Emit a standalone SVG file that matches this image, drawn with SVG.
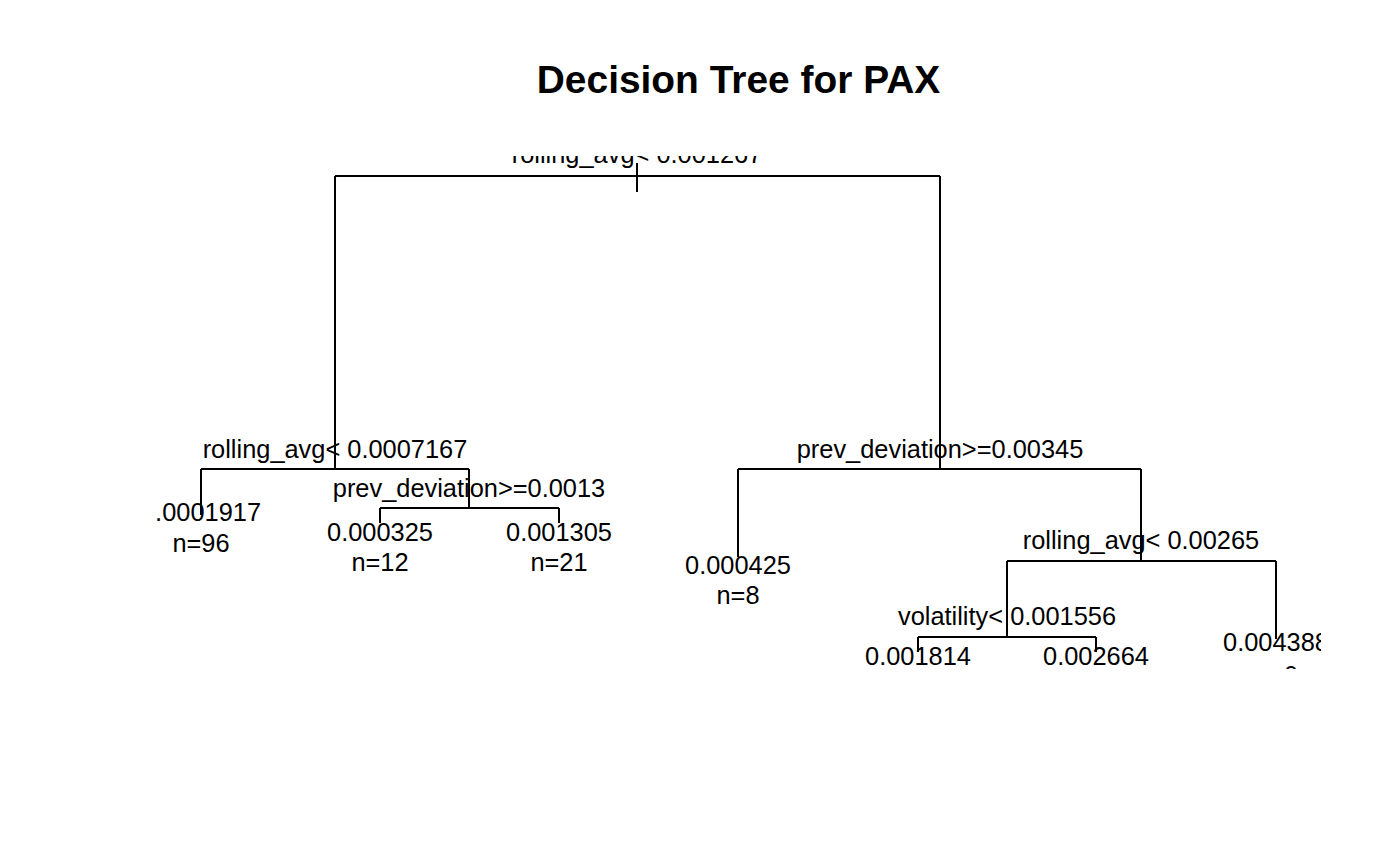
<svg xmlns="http://www.w3.org/2000/svg" width="1400" height="865" viewBox="0 0 1400 865">
<style>
.t{font-family:"Liberation Sans",Arial,sans-serif;font-size:25.4px;fill:#000;text-anchor:middle}
.title{font-family:"Liberation Sans",Arial,sans-serif;font-size:38.9px;font-weight:bold;fill:#000;text-anchor:middle}
.c{fill:none;stroke:#000;stroke-width:2;stroke-linecap:butt}
</style>
<defs>
<clipPath id="plot"><rect x="156" y="156" width="1165" height="513"/></clipPath>
</defs>
<rect width="1400" height="865" fill="#fff"/>
<text class="title" x="738.5" y="93">Decision Tree for PAX</text>
<g clip-path="url(#plot)">
<g id="connectors">
<path class="c" d="M637,163V192M335,176H940M335,176V469M940,176V469"/>
<path class="c" d="M201,469H469M201,469V515M469,469V508"/>
<path class="c" d="M380,508H559M380,508V523M559,508V523"/>
<path class="c" d="M738,469H1141M738,469V557M1141,469V561"/>
<path class="c" d="M1007,561H1276M1007,561V637M1276,561V639"/>
<path class="c" d="M918,637H1096M918,637V652M1096,637V652"/>
</g>
<g id="n1"><text class="t" x="637" y="163">rolling_avg&lt; 0.001267</text></g>
<g id="n2"><text class="t" x="335" y="458">rolling_avg&lt; 0.0007167</text></g>
<g id="n4"><text class="t" x="201" y="521">0.0001917</text><text class="t" x="201" y="552">n=96</text></g>
<g id="n5"><text class="t" x="469" y="497">prev_deviation&gt;=0.0013</text></g>
<g id="n10"><text class="t" x="380" y="541">0.000325</text><text class="t" x="380" y="571">n=12</text></g>
<g id="n11"><text class="t" x="559" y="541">0.001305</text><text class="t" x="559" y="571">n=21</text></g>
<g id="n3"><text class="t" x="940" y="458">prev_deviation&gt;=0.00345</text></g>
<g id="n6"><text class="t" x="738" y="574">0.000425</text><text class="t" x="738" y="604">n=8</text></g>
<g id="n7"><text class="t" x="1141" y="549">rolling_avg&lt; 0.00265</text></g>
<g id="n14"><text class="t" x="1007" y="625">volatility&lt; 0.001556</text></g>
<g id="n28"><text class="t" x="918" y="665">0.001814</text></g>
<g id="n29"><text class="t" x="1096" y="665">0.002664</text></g>
<g id="n15"><text class="t" x="1276" y="651">0.004388</text><text class="t" x="1276" y="684">n=6</text></g>
</g>
</svg>
